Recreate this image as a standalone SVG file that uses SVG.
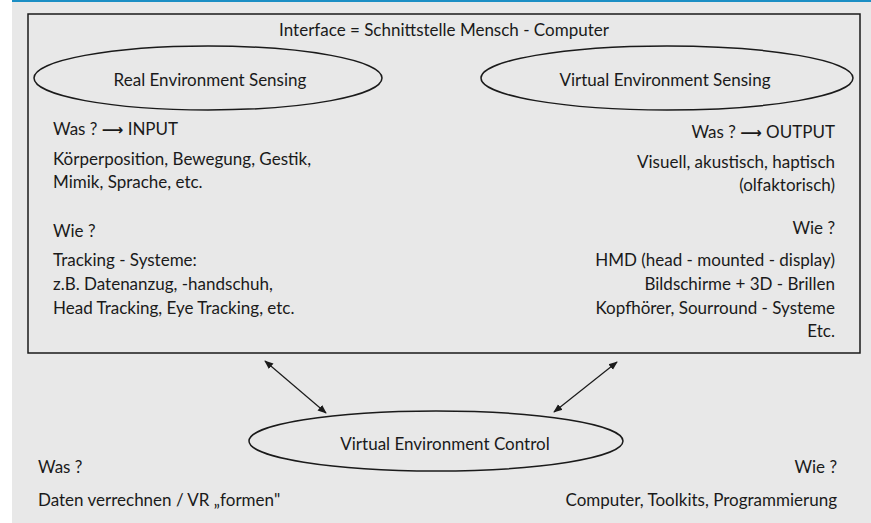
<svg xmlns="http://www.w3.org/2000/svg" width="871" height="523" viewBox="0 0 871 523">
<defs>
<style>
text{font-family:Lato,"Open Sans","Liberation Sans",sans-serif;font-size:17px;fill:#1a1a1a}
.r{text-anchor:end}
.m{text-anchor:middle}
.arr{font-family:"DejaVu Sans",sans-serif;font-weight:bold;font-size:15px}
.shape{fill:none;stroke:#1a1a1a;stroke-width:1.5}
.conn{stroke:#1a1a1a;stroke-width:1.2;fill:none}
</style>
<marker id="ah" viewBox="0 0 10 10" refX="9" refY="5" markerWidth="9" markerHeight="9" markerUnits="userSpaceOnUse" orient="auto-start-reverse">
<path d="M0,1 L10,5 L0,9 z" fill="#1a1a1a"/>
</marker>
</defs>
<rect x="0" y="0" width="871" height="523" fill="#ffffff"/>
<rect x="12" y="0" width="859" height="523" fill="#e8e8e8"/>
<rect x="12" y="0" width="859" height="2" fill="#1b8ec4"/>
<g id="interface">
<rect class="shape" x="28" y="14" width="832" height="339"/>
<text class="m" x="444" y="36">Interface = Schnittstelle Mensch - Computer</text>
</g>
<g id="real-sensing">
<ellipse class="shape" cx="208" cy="78" rx="174" ry="32"/>
<text class="m" x="210" y="86">Real Environment Sensing</text>
</g>
<g id="virtual-sensing">
<ellipse class="shape" cx="667" cy="78" rx="186" ry="32"/>
<text class="m" x="665" y="86">Virtual Environment Sensing</text>
</g>
<g id="left-text">
<text x="53" y="135">Was ?  <tspan class="arr">⟶</tspan> INPUT</text>
<text x="53" y="165">Körperposition, Bewegung, Gestik,</text>
<text x="53" y="188">Mimik, Sprache, etc.</text>
<text x="53" y="237">Wie ?</text>
<text x="53" y="266">Tracking - Systeme:</text>
<text x="53" y="290">z.B. Datenanzug, -handschuh,</text>
<text x="53" y="314">Head Tracking, Eye Tracking, etc.</text>
</g>
<g id="right-text">
<text class="r" x="835" y="138">Was ?  <tspan class="arr">⟶</tspan> OUTPUT</text>
<text class="r" x="835" y="168">Visuell, akustisch, haptisch</text>
<text class="r" x="835" y="191">(olfaktorisch)</text>
<text class="r" x="835" y="234">Wie ?</text>
<text class="r" x="835" y="266">HMD (head - mounted - display)</text>
<text class="r" x="835" y="290">Bildschirme + 3D - Brillen</text>
<text class="r" x="835" y="314">Kopfhörer, Sourround - Systeme</text>
<text class="r" x="835" y="337">Etc.</text>
</g>
<g id="control">
<ellipse class="shape" cx="436" cy="441" rx="187" ry="30"/>
<text class="m" x="445" y="450">Virtual Environment Control</text>
</g>
<g id="bottom-text">
<text x="38" y="473">Was ?</text>
<text x="38" y="506">Daten verrechnen / VR  „formen"</text>
<text class="r" x="837" y="473">Wie ?</text>
<text class="r" x="837" y="506">Computer, Toolkits, Programmierung</text>
</g>
<g id="connectors">
<line class="conn" x1="265" y1="361" x2="326" y2="413" marker-start="url(#ah)" marker-end="url(#ah)"/>
<line class="conn" x1="617" y1="362" x2="554" y2="412" marker-start="url(#ah)" marker-end="url(#ah)"/>
</g>
</svg>
